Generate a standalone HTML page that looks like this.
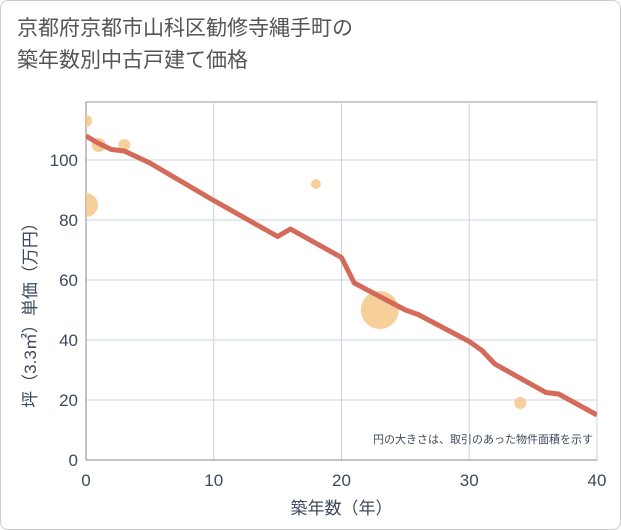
<!DOCTYPE html>
<html><head><meta charset="utf-8"><style>
body{margin:0;background:#fff;font-family:"Liberation Sans","Noto Sans CJK JP",sans-serif;}
.wrap{position:relative;width:619px;height:528px;border:1px solid #ccc;border-radius:8px;overflow:hidden;}
.title{position:absolute;left:16px;top:12px;font-size:21px;line-height:32px;color:#555;}
</style></head><body>
<div class="wrap">
<div class="title">京都府京都市山科区勧修寺縄手町の<br>築年数別中古戸建て価格</div>
<svg id="chart" width="621" height="530" style="position:absolute;left:-1px;top:-1px"></svg>
</div>
<script>
const lineYears=[0,1,2,3,4,5,6,7,10,15,16,20,21,25,26,30,31,32,36,37,40];
const linePrices=[108,105.5,103.5,103,101,99,96.5,94,86.5,74.5,77,67.5,59,50,48.5,39.5,36.5,32,22.5,22,15];
const bubbleYears=[0,1,3,0,18,23,34];
const bubblePrices=[113,105,105,85,92,50,19];
const bubbleSizes=[6,7,6,12,5,19,6];
const xTicks=[0,10,20,30,40];
const yTicks=[0,20,40,60,80,100];
const NS='http://www.w3.org/2000/svg';
const svg=document.getElementById('chart');
const L=86,R=597,T=102,B=460;
const TC='#3d4a5c';
const x=v=>L+(v/40)*(R-L);
const y=v=>B-v*3;
function mk(t,a){const e=document.createElementNS(NS,t);for(const k in a)e.setAttribute(k,a[k]);svg.appendChild(e);return e;}
const clip=mk('clipPath',{id:'pc'});const cr=document.createElementNS(NS,'rect');
cr.setAttribute('x',L);cr.setAttribute('y',T);cr.setAttribute('width',R-L);cr.setAttribute('height',B-T);clip.appendChild(cr);
const bg=mk('rect',{x:L,y:T,width:R-L,height:B-T,fill:'#fff',stroke:'#999'});


xTicks.forEach(v=>{const g=mk('line',{x1:x(v),x2:x(v),y1:T,y2:B,stroke:'#c8d2e0'});


const t=mk('text',{x:x(v),y:B+26,'text-anchor':'middle','font-size':17,fill:TC});t.textContent=v;

});
yTicks.forEach(v=>{const g=mk('line',{x1:L,x2:R,y1:y(v),y2:y(v),stroke:'#c8d2e0'});


const t=mk('text',{x:L-8,y:y(v)+6,'text-anchor':'end','font-size':17,fill:TC});t.textContent=v;

});
mk('line',{x1:L,x2:L,y1:T,y2:B,stroke:'#888'});
mk('line',{x1:L,x2:R,y1:B,y2:B,stroke:'#888'});
bubbleYears.forEach((v,i)=>{const c=mk('circle',{cx:x(v),cy:y(bubblePrices[i]),r:bubbleSizes[i],fill:'#f5c78a','fill-opacity':0.85,'clip-path':'url(#pc)'});

});
const p=mk('polyline',{points:lineYears.map((v,i)=>x(v)+','+y(linePrices[i])).join(' '),fill:'none',stroke:'#d46a5a','stroke-width':5,'stroke-linejoin':'round','clip-path':'url(#pc)'});


const note=mk('text',{x:593,y:443,'text-anchor':'end','font-size':11,fill:TC});note.textContent='円の大きさは、取引のあった物件面積を示す';


const xt=mk('text',{x:(L+R)/2,y:514,'text-anchor':'middle','font-size':17,fill:TC});xt.textContent='築年数（年）';


const yt=mk('text',{x:0,y:0,'text-anchor':'middle','font-size':17,fill:TC,transform:'translate(36,'+((T+B)/2+30)+') rotate(-90)'});yt.textContent='坪（3.3㎡）単価（万円）';


</script>
</body></html>
